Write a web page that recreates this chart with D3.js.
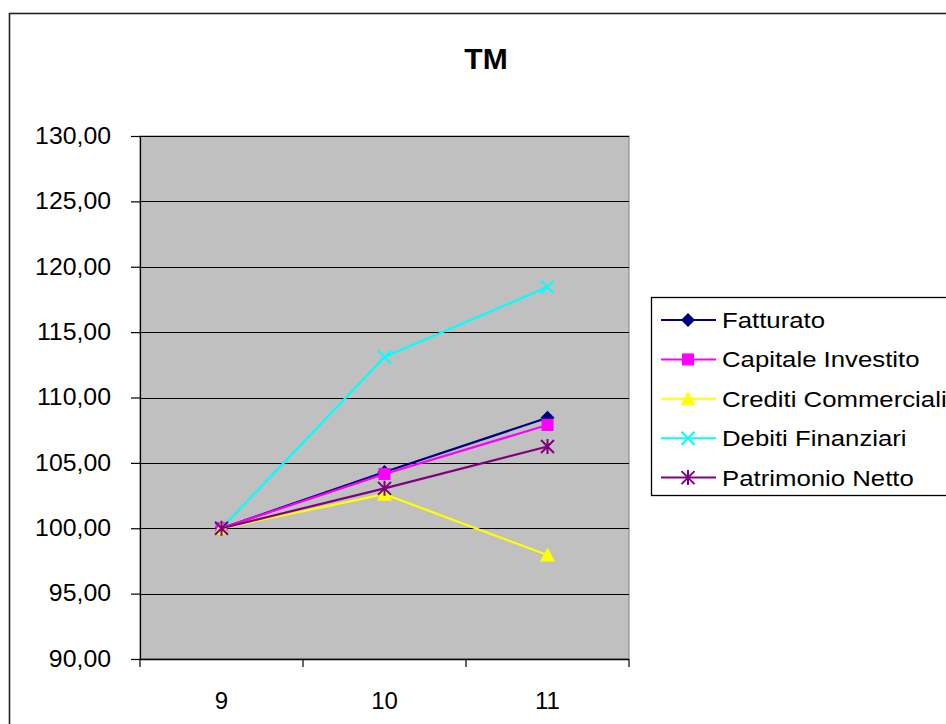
<!DOCTYPE html>
<html>
<head>
<meta charset="utf-8">
<script src="https://cdn.jsdelivr.net/npm/d3@7"></script>
<style>
  html, body { margin: 0; padding: 0; background: #fff; }
  svg { display: block; font-family: "Liberation Sans", Arial, sans-serif; }
</style>
</head>
<body>
<svg id="chart" width="946" height="724"></svg>
<script>
// Index series (base year 9 = 100)
const title = "TM";
const years = [9, 10, 11];
const seriesNames = ["Fatturato", "Capitale Investito", "Crediti Commerciali", "Debiti Finanziari", "Patrimonio Netto"];
const fatturato = [100.00, 104.30, 108.45];
const capitaleInvestito = [100.00, 104.15, 107.90];
const creditiCommerciali = [100.00, 102.60, 97.95];
const debitiFinanziari = [100.00, 113.10, 118.45];
const patrimonioNetto = [100.00, 103.05, 106.25];
const yTicks = [90, 95, 100, 105, 110, 115, 120, 125, 130];

const seriesValues = [fatturato, capitaleInvestito, creditiCommerciali, debitiFinanziari, patrimonioNetto];
const colors = ["#000080", "#FF00FF", "#FFFF00", "#00FFFF", "#800080"];
const markers = ["diamond", "square", "triangle", "cross", "star"];

const svg = d3.select("#chart");
const plot = { left: 140, top: 136, right: 629, bottom: 659 };

const itLocale = d3.formatLocale({ decimal: ",", thousands: ".", grouping: [3], currency: ["", " €"] });
const fmt = itLocale.format(".2f");

// Outer chart frame
svg.append("rect")
  .attr("x", 9.5).attr("y", 13.5)
  .attr("width", 960).attr("height", 760)
  .attr("fill", "#fff").attr("stroke", "#222").attr("stroke-width", 1.6);

// Title
svg.append("text")
  .attr("x", 486).attr("y", 69)
  .attr("text-anchor", "middle")
  .attr("font-size", 30).attr("font-weight", "bold")
  .text(title);

const x = d3.scaleBand().domain(years).range([plot.left, plot.right]).padding(0);
const xc = d => x(d) + x.bandwidth() / 2;
const y = d3.scaleLinear().domain([90, 130]).range([plot.bottom, plot.top]);

// Plot area
svg.append("rect")
  .attr("x", plot.left).attr("y", plot.top)
  .attr("width", plot.right - plot.left).attr("height", plot.bottom - plot.top)
  .attr("fill", "#C0C0C0").attr("stroke", "#808080").attr("stroke-width", 1);

// Gridlines
svg.append("g").selectAll("line").data(yTicks).join("line")
  .attr("x1", plot.left).attr("x2", plot.right)
  .attr("y1", d => Math.round(y(d)) + 0.5).attr("y2", d => Math.round(y(d)) + 0.5)
  .attr("stroke", "#000").attr("stroke-width", 1.2);

// Y axis
const yAxis = svg.append("g")
  .attr("transform", `translate(${plot.left},0)`)
  .call(d3.axisLeft(y).tickValues(yTicks).tickFormat(fmt).tickSize(9).tickPadding(0));
yAxis.select(".domain").attr("stroke", "#000").attr("stroke-width", 1.2);
yAxis.selectAll(".tick line").attr("stroke", "#000").attr("stroke-width", 1.2);
yAxis.selectAll(".tick text")
  .attr("x", null)
  .attr("transform", "translate(-29,0) scale(1.08,1)")
  .attr("font-size", 23).attr("fill", "#000")
  .attr("font-family", "Liberation Sans, Arial, sans-serif");

// X axis: tick marks at category boundaries, labels centred in each band
const xAxis = svg.append("g").attr("transform", `translate(0,${plot.bottom})`);
xAxis.append("line")
  .attr("x1", plot.left).attr("x2", plot.right)
  .attr("y1", 0.5).attr("y2", 0.5)
  .attr("stroke", "#000").attr("stroke-width", 1.5);
const edges = years.map(d => x(d)).concat([plot.right]);
xAxis.selectAll("line.tk").data(edges).join("line").attr("class", "tk")
  .attr("x1", d => d).attr("x2", d => d)
  .attr("y1", 0).attr("y2", 8)
  .attr("stroke", "#000").attr("stroke-width", 1.2);
xAxis.selectAll("text").data(years).join("text")
  .attr("x", xc).attr("y", 50)
  .attr("text-anchor", "middle")
  .attr("font-size", 24)
  .text(d => d);

// Marker shapes
function drawMarker(g, type, color, cx, cy) {
  if (type === "diamond") {
    g.append("path").attr("d", `M${cx},${cy - 7}L${cx + 7},${cy}L${cx},${cy + 7}L${cx - 7},${cy}Z`)
      .attr("fill", color);
  } else if (type === "square") {
    g.append("rect").attr("x", cx - 6).attr("y", cy - 6).attr("width", 12).attr("height", 12)
      .attr("fill", color);
  } else if (type === "triangle") {
    g.append("path").attr("d", `M${cx},${cy - 7.5}L${cx + 7.5},${cy + 6.5}L${cx - 7.5},${cy + 6.5}Z`)
      .attr("fill", color);
  } else if (type === "cross") {
    g.append("path").attr("d", `M${cx - 6.5},${cy - 6.5}L${cx + 6.5},${cy + 6.5}M${cx + 6.5},${cy - 6.5}L${cx - 6.5},${cy + 6.5}`)
      .attr("stroke", color).attr("stroke-width", 2).attr("fill", "none");
  } else if (type === "star") {
    g.append("path").attr("d", `M${cx - 6.5},${cy - 6.5}L${cx + 6.5},${cy + 6.5}M${cx + 6.5},${cy - 6.5}L${cx - 6.5},${cy + 6.5}M${cx},${cy - 7.5}L${cx},${cy + 7.5}`)
      .attr("stroke", color).attr("stroke-width", 2).attr("fill", "none");
  }
}

// Series lines and markers
const line = d3.line().x((d, i) => xc(years[i])).y(d => y(d));
const seriesG = svg.append("g");
seriesValues.forEach((vals, si) => {
  const g = seriesG.append("g");
  g.append("path").datum(vals)
    .attr("d", line)
    .attr("fill", "none")
    .attr("stroke", colors[si]).attr("stroke-width", 2.2);
  vals.forEach((v, i) => drawMarker(g, markers[si], colors[si], xc(years[i]), y(v)));
});

// Legend
const legend = svg.append("g");
legend.append("rect")
  .attr("x", 651.5).attr("y", 297.5)
  .attr("width", 320).attr("height", 198)
  .attr("fill", "#fff").attr("stroke", "#000").attr("stroke-width", 1.3);
const rowY0 = 320, rowStep = 39.4;
seriesNames.forEach((name, si) => {
  const ry = rowY0 + si * rowStep;
  legend.append("line")
    .attr("x1", 661).attr("x2", 716).attr("y1", ry).attr("y2", ry)
    .attr("stroke", colors[si]).attr("stroke-width", 2);
  drawMarker(legend, markers[si], colors[si], 688, ry);
  legend.append("text")
    .attr("transform", `translate(722,${ry + 8}) scale(1.12,1)`)
    .attr("font-size", 23)
    .text(name);
});
</script>
</body>
</html>
